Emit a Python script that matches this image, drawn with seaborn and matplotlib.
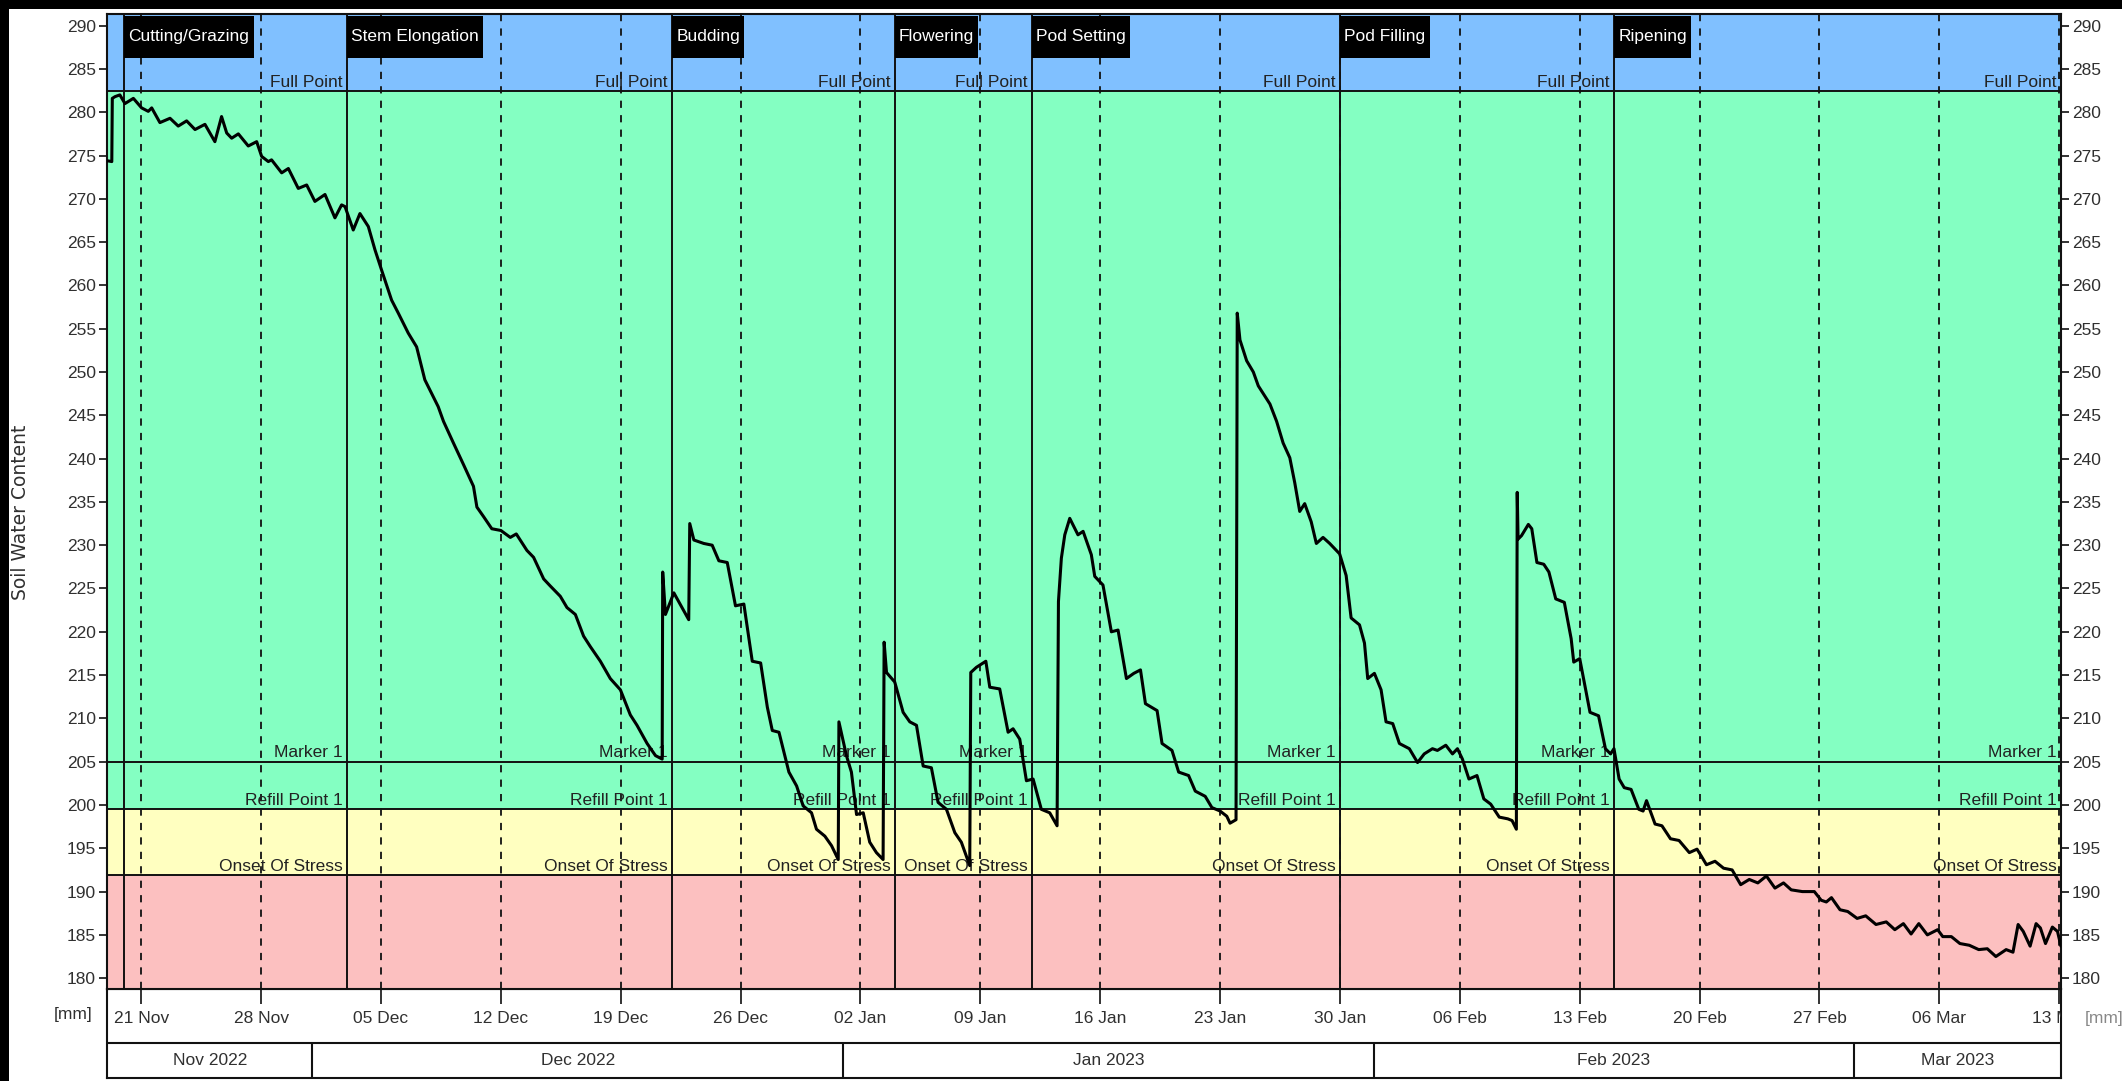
import numpy as np
import pandas as pd
import matplotlib
matplotlib.use("Agg")
import matplotlib.pyplot as plt
import matplotlib.dates as mdates
from matplotlib.patches import Rectangle
from matplotlib.path import Path
from matplotlib.transforms import Bbox, TransformedBbox, blended_transform_factory
import seaborn as sns

# ---------------------------------------------------------------- data
START = pd.Timestamp("2022-11-19 00:00")
END = pd.Timestamp("2023-03-13 02:30")

# probe readings: days elapsed since START and soil water content (mm)
elapsed_days = [
    0.00, 0.28, 0.31, 0.47, 0.75, 1.05, 1.54, 2.02, 2.41, 2.61,
    3.09, 3.68, 4.16, 4.65, 5.14, 5.72, 6.30, 6.69, 6.99, 7.28,
    7.67, 8.25, 8.74, 9.03, 9.42, 9.61, 10.20, 10.59, 11.17, 11.66,
    12.14, 12.73, 13.31, 13.70, 13.90, 14.38, 14.77, 15.26, 15.65, 16.03,
    16.62, 17.01, 17.59, 18.08, 18.56, 19.34,
    19.65, 20.23, 20.82, 21.40, 21.60, 21.99, 22.47, 23.00, 23.55, 23.90,
    24.52, 24.91, 25.50, 25.88, 26.47, 26.86, 27.35, 27.83, 28.22, 28.81,
    29.39, 29.98, 30.56, 30.95, 31.54, 32.03, 32.42,
    32.45, 32.61, 33.10, 33.58, 33.97,
    34.03, 34.27, 34.85, 35.34, 35.73, 36.22, 36.70, 37.19, 37.68, 38.17,
    38.56, 38.85, 39.24, 39.82,
    40.27, 40.65, 41.14, 41.43, 41.92, 42.31, 42.70,
    42.74, 43.18, 43.47, 43.77, 44.16, 44.54, 44.93, 45.32,
    45.38, 45.52, 46.00, 46.49, 46.88, 47.27, 47.66, 48.14, 48.53, 49.02,
    49.51, 49.89, 50.38,
    50.44, 50.77, 51.32, 51.55, 52.13, 52.62, 52.91, 53.30, 53.69, 54.08,
    54.56, 55.05, 55.48,
    55.56, 55.73, 55.93, 56.22, 56.70, 57.00, 57.48, 57.68, 58.16, 58.65,
    59.04, 59.53,
    59.96, 60.35, 60.64, 61.32, 61.61, 62.19, 62.58, 63.16, 63.55, 64.13,
    64.52, 65.00, 65.39, 65.58, 65.93,
    66.00, 66.16, 66.55, 66.94, 67.23, 67.91, 68.30, 68.68, 69.07, 69.36,
    69.65, 69.94, 70.32, 70.62, 71.01, 71.40, 71.98, 72.36, 72.65, 73.14,
    73.43, 73.62, 74.01, 74.40, 74.69, 75.08, 75.47, 76.05, 76.53, 76.92,
    77.40, 77.69, 78.18, 78.57, 78.86, 79.15, 79.53,
    80.00, 80.40, 80.80, 81.30, 81.80, 82.05, 82.30,
    82.35, 82.40, 82.60, 83.00, 83.20, 83.50, 83.90, 84.20, 84.60, 85.10,
    85.50, 85.65, 86.00, 86.30, 86.60, 87.10, 87.50, 87.80, 88.00, 88.30,
    88.60, 89.00, 89.45, 89.70, 89.90, 90.40, 90.80, 91.30, 91.80, 92.40,
    92.85,
    93.10, 93.40, 93.90, 94.40, 94.90, 95.40, 95.90, 96.40, 96.90, 97.40,
    97.90,
    98.35, 99.00, 99.70, 100.10, 100.40, 100.70, 101.20, 101.65, 102.20, 102.70,
    103.30, 103.90, 104.40, 104.90, 105.35, 105.80, 106.30, 106.90, 107.20, 107.70,
    108.20, 108.75, 109.30, 109.80, 110.30, 110.90, 111.30, 111.60, 111.90, 112.30,
    112.65, 112.90, 113.20, 113.60, 113.90, 114.10,
]
soil_water_mm = [
    274.4, 274.3, 281.6, 281.8, 282.0, 281.0, 281.6, 280.5, 280.1, 280.5,
    278.8, 279.3, 278.4, 279.0, 278.0, 278.6, 276.6, 279.5, 277.6, 277.0,
    277.5, 276.1, 276.6, 274.9, 274.3, 274.5, 273.0, 273.5, 271.2, 271.6,
    269.7, 270.5, 267.8, 269.3, 269.1, 266.4, 268.3, 266.8, 264.1, 261.8,
    258.3, 256.8, 254.5, 252.9, 249.1, 246.0,
    244.3, 241.8, 239.3, 236.8, 234.4, 233.3, 231.9, 231.7, 230.9, 231.3,
    229.4, 228.6, 226.1, 225.3, 224.1, 222.8, 222.0, 219.5, 218.3, 216.6,
    214.6, 213.3, 210.4, 209.2, 207.1, 205.7, 205.3,
    226.9, 222.0, 224.5, 222.8, 221.4,
    232.5, 230.6, 230.2, 230.0, 228.2, 228.0, 223.0, 223.2, 216.6, 216.4,
    211.3, 208.6, 208.4, 203.8,
    202.2, 199.9, 199.1, 197.2, 196.4, 195.3, 193.7,
    209.6, 205.7, 203.8, 198.9, 199.1, 195.7, 194.5, 193.7,
    218.8, 215.3, 214.2, 210.7, 209.6, 209.2, 204.5, 204.3, 200.3, 199.5,
    196.8, 195.7, 193.0,
    215.3, 215.9, 216.6, 213.6, 213.4, 208.4, 208.8, 207.6, 202.8, 203.0,
    199.5, 199.1, 197.6,
    223.5, 228.5, 231.2, 233.1, 231.2, 231.6, 228.9, 226.4, 225.4, 220.0,
    220.2, 214.6,
    215.2, 215.6, 211.7, 210.9, 207.1, 206.3, 203.8, 203.4, 201.6, 201.0,
    199.7, 199.3, 198.7, 197.9, 198.3,
    256.8, 253.7, 251.3, 250.0, 248.4, 246.3, 244.3, 241.8, 240.1, 237.2,
    233.9, 234.8, 232.7, 230.2, 230.9, 230.2, 229.0, 226.5, 221.6, 220.8,
    218.7, 214.6, 215.2, 213.3, 209.6, 209.4, 207.1, 206.5, 204.9, 205.9,
    206.5, 206.3, 206.9, 205.9, 206.5, 205.3, 203.0,
    203.4, 200.7, 200.1, 198.6, 198.4, 198.2, 197.2,
    236.1, 230.7, 231.1, 232.4, 231.9, 228.0, 227.8, 226.9, 223.8, 223.4,
    219.2, 216.5, 216.9, 213.8, 210.7, 210.3, 206.5, 205.9, 206.5, 203.0,
    202.0, 201.8, 199.5, 199.3, 200.5, 197.8, 197.6, 196.1, 195.9, 194.5,
    194.9,
    194.1, 193.1, 193.5, 192.7, 192.5, 190.8, 191.4, 191.0, 191.8, 190.4,
    191.0,
    190.2, 190.0, 190.0, 189.0, 188.8, 189.3, 187.9, 187.7, 186.9, 187.2,
    186.2, 186.5, 185.6, 186.3, 185.1, 186.3, 185.0, 185.6, 184.8, 184.8,
    184.0, 183.8, 183.3, 183.4, 182.5, 183.3, 183.0, 186.2, 185.4, 183.7,
    186.3, 185.8, 184.0, 185.9, 185.4, 183.7,
]
assert len(elapsed_days) == len(soil_water_mm)

# crop growth stages (start dates)
stage_names = ["Cutting/Grazing", "Stem Elongation", "Budding", "Flowering",
               "Pod Setting", "Pod Filling", "Ripening"]
stage_starts = ["2022-11-20", "2022-12-03", "2022-12-22", "2023-01-04",
                "2023-01-12", "2023-01-30", "2023-02-15"]

# soil water thresholds (mm)
level_names = ["Full Point", "Marker 1", "Refill Point 1", "Onset Of Stress"]
level_values = [282.4, 205.0, 199.5, 191.9]

y_min, y_max = 178.75, 291.4
y_ticks = list(range(180, 291, 5))
week_ticks = pd.date_range("2022-11-21", "2023-03-13", freq="7D")
month_names = ["Nov 2022", "Dec 2022", "Jan 2023", "Feb 2023", "Mar 2023"]
month_starts = ["2022-12-01", "2023-01-01", "2023-02-01", "2023-03-01"]

# ---------------------------------------------------------------- style
sns.set_style("white")
plt.rcParams["font.family"] = ["Liberation Sans", "DejaVu Sans"]

BLUE, GREEN, YELLOW, PINK = "#80C0FF", "#84FFC2", "#FFFFC0", "#FCC0C0"
TXT = "#303030"
FS = 12.5

W, H = 2122, 1081
fig = plt.figure(figsize=(W / 100, H / 100), dpi=100, facecolor="white")

# frame strips along the top and left edge of the panel
fig.patches.append(Rectangle((0, 1 - 9 / H), 1, 9 / H, transform=fig.transFigure,
                             facecolor="black", edgecolor="none", zorder=-5))
fig.patches.append(Rectangle((0, 0), 9 / W, 1, transform=fig.transFigure,
                             facecolor="black", edgecolor="none", zorder=-5))

L, R, T, B = 107, 2061, 13.5, 989
MB_T, MB_B = 1043, 1078
ax = fig.add_axes([L / W, 1 - B / H, (R - L) / W, (B - T) / H])
ax.set_zorder(3)
bx = fig.add_axes([L / W, 1 - MB_B / H, (R - L) / W, (MB_B - B) / H], sharex=ax)
bx.set_zorder(1)

num = lambda t: mdates.date2num(pd.Timestamp(t))

# coloured zones
ax.axhspan(y_min, level_values[3], color=PINK, zorder=0, lw=0)
ax.axhspan(level_values[3], level_values[2], color=YELLOW, zorder=0, lw=0)
ax.axhspan(level_values[2], level_values[0], color=GREEN, zorder=0, lw=0)
ax.axhspan(level_values[0], y_max, color=BLUE, zorder=0, lw=0)

for v in level_values:
    ax.axhline(v, color="#111111", lw=1.4, zorder=1)
for d in week_ticks:
    ax.axvline(num(d), color="#111111", lw=1.3, ls=(0, (4, 4)), zorder=1)
for d in stage_starts:
    ax.axvline(num(d), color="#111111", lw=1.4, zorder=1)

# threshold labels at the end of every stage
ends = [num(s) for s in stage_starts[1:]] + [num(END)]
for e in ends:
    for name, v in zip(level_names, level_values):
        ax.annotate(name, xy=(e, v), xytext=(-3, 1.0), textcoords="offset points",
                    ha="right", va="bottom", fontsize=FS, color="#222222",
                    zorder=2, annotation_clip=False)

# soil water series
df = pd.DataFrame({
    "time": START + pd.to_timedelta(elapsed_days, unit="D"),
    "swc": soil_water_mm,
})
sns.lineplot(data=df, x="time", y="swc", ax=ax, color="black", lw=2.2,
             sort=False, estimator=None, zorder=4)


def banner_box(x0, y0, width, height, mutation_size):
    px, py = 0.25 * mutation_size, 0.78 * mutation_size
    return Path([(x0 - px, y0 - py), (x0 + width + px, y0 - py),
                 (x0 + width + px, y0 + height + py), (x0 - px, y0 + height + py),
                 (x0 - px, y0 - py)], closed=True)


# stage banners
top_tr = blended_transform_factory(ax.transData, ax.transAxes)
for name, d in zip(stage_names, stage_starts):
    ax.annotate(name, xy=(num(d), 1), xycoords=top_tr, xytext=(3.0, -11.5),
                textcoords="offset points", ha="left", va="top", fontsize=FS,
                color="white", zorder=6,
                bbox=dict(boxstyle=banner_box, fc="black", ec="none"))

ax.set_xlim(num(START), num(END))
ax.set_ylim(y_min, y_max)
ax.set_xlabel("")
ax.set_ylabel("")
ax.set_xticks([num(d) for d in week_ticks])
ax.xaxis.set_major_formatter(mdates.DateFormatter("%d %b"))
ax.set_yticks(y_ticks)
ax.tick_params(axis="x", bottom=True, direction="out", length=10.8, width=1.2,
               pad=5, labelsize=FS, labelcolor=TXT, color="#111111")
ax.tick_params(axis="y", left=True, right=True, labelleft=True, labelright=True,
               direction="out", length=6, width=1.2, pad=2, labelsize=FS,
               labelcolor=TXT, color="#111111")
for s in ax.spines.values():
    s.set_color("#111111")
    s.set_linewidth(1.5)

clip = TransformedBbox(Bbox([[0, 0], [R / W, 1]]), fig.transFigure)
for lbl in ax.get_xticklabels():
    lbl.set_clip_box(clip)
    lbl.set_clip_on(True)

# month strip below the date ticks
bx.set_ylim(0, 1)
bx.tick_params(bottom=False, labelbottom=False, left=False, labelleft=False)
bx.set_facecolor("white")
for s in bx.spines.values():
    s.set_color("#111111")
    s.set_linewidth(1.5)
row = (MB_B - MB_T) / (MB_B - B)
bx.axhline(row, color="#111111", lw=1.5)
edges = [num(START)] + [num(m) for m in month_starts] + [num(END)]
for m in month_starts:
    bx.axvline(num(m), ymin=0, ymax=row, color="#111111", lw=1.5)
for name, a, b in zip(month_names, edges[:-1], edges[1:]):
    bx.text((a + b) / 2, row / 2, name, ha="center", va="center",
            fontsize=FS, color=TXT)

fig.text(20.5 / W, 1 - 512 / H, "Soil Water Content", rotation=90, ha="center",
         va="center", fontsize=13.5, color=TXT, family=["DejaVu Sans"])
fig.text(73 / W, 1 - 1015 / H, "[mm]", ha="center", va="center", fontsize=FS, color=TXT)
fig.text(2104 / W, 1 - 1018 / H, "[mm]", ha="center", va="center", fontsize=FS, color="#888888")

fig.savefig("out.png", dpi=100, facecolor="white")
